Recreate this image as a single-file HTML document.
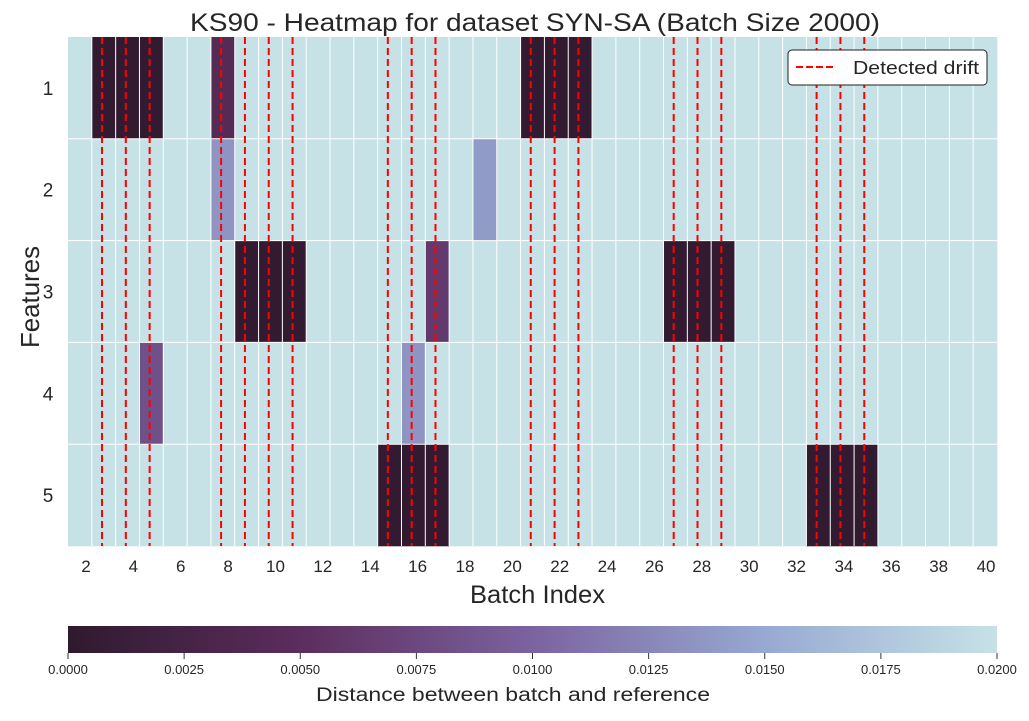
<!DOCTYPE html>
<html><head><meta charset="utf-8"><style>
body{margin:0;background:#fff;font-family:"Liberation Sans","DejaVu Sans",sans-serif}
svg text{font-family:"Liberation Sans","DejaVu Sans",sans-serif;fill:#262626}
</style></head><body>
<svg id="c" width="1029" height="716" xmlns="http://www.w3.org/2000/svg">
<defs><linearGradient id="g" x1="0" x2="1" y1="0" y2="0">
<stop offset="0" stop-color="#2f1a2e"/><stop offset="0.25" stop-color="#5c2d5d"/><stop offset="0.5" stop-color="#7b63a0"/><stop offset="0.75" stop-color="#97a9d2"/><stop offset="1" stop-color="#c6e2e6"/></linearGradient></defs>
<text x="190" y="31" font-size="25" textLength="690" lengthAdjust="spacingAndGlyphs">KS90 - Heatmap for dataset SYN-SA (Batch Size 2000)</text>
<g id="cells"></g><g id="grid"></g><g id="drift"></g><g id="ticks"></g>
<text x="470" y="603" font-size="25" textLength="135" lengthAdjust="spacingAndGlyphs">Batch Index</text>
<text x="0" y="0" font-size="26" text-anchor="middle" textLength="102" lengthAdjust="spacingAndGlyphs" transform="translate(39,297) rotate(-90)">Features</text>
<g>
<rect x="788" y="50" width="199" height="35" rx="4" fill="#fff" stroke="#222" stroke-width="1"/>
<line x1="796" y1="67" x2="836" y2="67" stroke="#f00" stroke-width="2" stroke-dasharray="7,3"/>
<text x="853" y="74" font-size="18" textLength="126" lengthAdjust="spacingAndGlyphs">Detected drift</text></g>
<rect x="68" y="626" width="929" height="27" fill="url(#g)"/>
<g id="cbt"></g>
<text x="316" y="701" font-size="19" textLength="394" lengthAdjust="spacingAndGlyphs">Distance between batch and reference</text>
</svg>
<script>
const batches=[];for(let b=2;b<=40;b++)batches.push(b);
const features=[1,2,3,4,5];
const row1={3:0.0003,4:0.0003,5:0.0003,8:0.0042,21:0.0003,22:0.0003,23:0.0003};
const row2={8:0.0135,19:0.014};
const row3={9:0.0003,10:0.0003,11:0.0003,17:0.0062,27:0.0003,28:0.0003,29:0.0003};
const row4={5:0.0082,16:0.0135};
const row5={15:0.0003,16:0.0003,17:0.0003,33:0.0003,34:0.0003,35:0.0003};
const rows=[row1,row2,row3,row4,row5];
const driftBatches=[3,4,5,8,9,10,11,15,16,17,21,22,23,27,28,29,33,34,35];
const xTicks=[2,4,6,8,10,12,14,16,18,20,22,24,26,28,30,32,34,36,38,40];
const cbTicks=[0,0.0025,0.005,0.0075,0.01,0.0125,0.015,0.0175,0.02];
const VMAX=0.02;
const X0=68,X1=997,Y0=37,Y1=546;
const cw=(X1-X0)/batches.length, rh=(Y1-Y0)/features.length;
const xCell=b=>X0+(b-2)*cw, yRow=i=>Y0+i*rh;
const xLine=b=>102+(b-3)*cw, xTick=b=>86+(b-2)/2*47.37;
const stops=[[0,[47,26,46]],[0.25,[92,45,93]],[0.5,[123,99,160]],[0.75,[151,169,210]],[1,[198,226,230]]];
function col(v){let t=Math.max(0,Math.min(1,v/VMAX));for(let i=1;i<stops.length;i++){if(t<=stops[i][0]){const a=stops[i-1],b=stops[i],f=(t-a[0])/(b[0]-a[0]);return 'rgb('+a[1].map((c,k)=>Math.round(c+(b[1][k]-c)*f)).join(',')+')';}}return 'rgb(198,226,230)';}
const NS='http://www.w3.org/2000/svg';
function mk(p,t,a){const e=document.createElementNS(NS,t);for(const k in a)e.setAttribute(k,a[k]);document.getElementById(p).appendChild(e);return e;}
features.forEach((f,i)=>{batches.forEach(b=>{const v=rows[i][b]!==undefined?rows[i][b]:VMAX;
const r=mk('cells','rect',{x:xCell(b),y:yRow(i),width:cw+0.3,height:rh+0.3,fill:col(v)});

});
const t=mk('ticks','text',{x:48,y:yRow(i)+rh/2+7,'font-size':19,'text-anchor':'middle'});t.textContent=f;

});
for(let k=1;k<batches.length;k++)mk('grid','line',{x1:X0+k*cw,x2:X0+k*cw,y1:Y0,y2:Y1,stroke:'#fff','stroke-width':1});
for(let k=1;k<features.length;k++)mk('grid','line',{x1:X0,x2:X1,y1:yRow(k),y2:yRow(k),stroke:'#fff','stroke-width':1});
driftBatches.forEach(b=>{const l=mk('drift','line',{x1:xLine(b),x2:xLine(b),y1:Y0,y2:Y1,stroke:'#f00','stroke-width':2,'stroke-dasharray':'7,4'});

});
xTicks.forEach(b=>{const t=mk('ticks','text',{x:xTick(b),y:572,'font-size':17,'text-anchor':'middle'});t.textContent=b;

});
cbTicks.forEach(v=>{const x=X0+v/VMAX*(X1-X0);mk('cbt','line',{x1:x,x2:x,y1:653,y2:659,stroke:'#333','stroke-width':1});
const t=mk('cbt','text',{x:x,y:674,'font-size':13,'text-anchor':'middle'});t.textContent=v.toFixed(4);

});
</script>
</body></html>
